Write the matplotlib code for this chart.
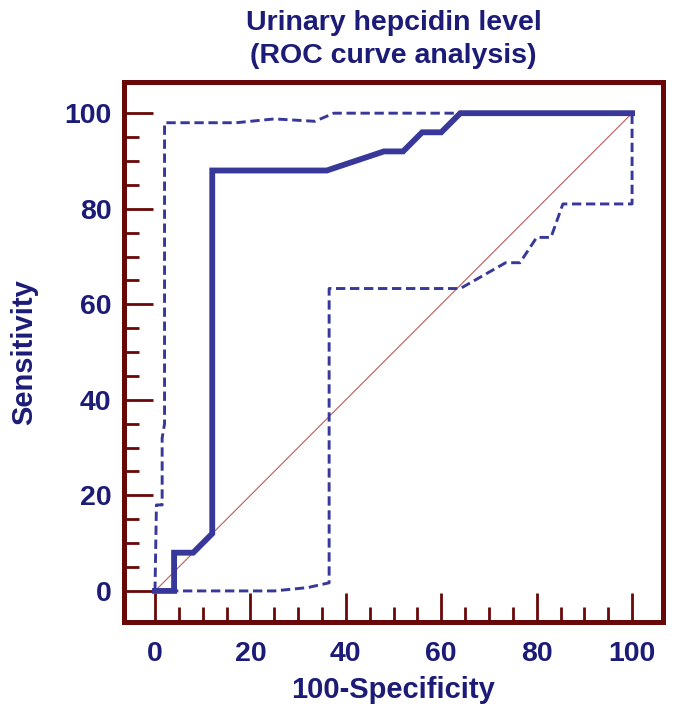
import matplotlib
matplotlib.use('Agg')
import matplotlib.pyplot as plt
from matplotlib.ticker import FixedLocator

# ROC curve (100-Specificity vs Sensitivity)
roc_x = [0, 4, 4, 8, 12, 12, 36, 48, 52, 56, 60, 64, 100]
roc_y = [0, 0, 8, 8, 12, 88, 88, 92, 92, 96, 96, 100, 100]

# upper 95% confidence bound
upper_x = [0, 0.3, 1.5, 1.5, 2, 2, 17, 25, 33.5, 37.5, 100]
upper_y = [0, 18, 18, 32, 35, 98, 98, 98.8, 98.3, 100, 100]

# lower 95% confidence bound
lower_x = [0, 25, 32, 36.5, 36.5, 64, 73.5, 76.5, 80, 83, 85.5, 100, 100]
lower_y = [0, 0, 0.7, 1.7, 63.3, 63.3, 68.7, 68.7, 74, 74, 81, 81, 100]

# reference line
diag = [0, 100]

tick_vals = [0, 20, 40, 60, 80, 100]
minor_vals = [v for v in range(5, 100, 5) if v % 20]

frame_col = '#690808'
text_col = '#1c1c78'
line_col = '#38389a'
diag_col = '#c05a5a'

plt.rcParams['font.family'] = ['Liberation Sans', 'DejaVu Sans']
plt.rcParams['font.weight'] = 'bold'

fig = plt.figure(figsize=(6.85, 7.08), dpi=100)
ax = fig.add_axes([0.181, 0.1215, 0.787, 0.7625])

ax.plot(diag, diag, color=diag_col, lw=0.8, zorder=2)
ax.plot(upper_x, upper_y, color=line_col, lw=2.1, ls='--', dashes=(3.2, 1.6), zorder=3)
ax.plot(lower_x, lower_y, color=line_col, lw=2.1, ls='--', dashes=(3.2, 1.6), zorder=3)
ax.plot(roc_x, roc_y, color=line_col, lw=4.2, solid_joinstyle='miter', zorder=4)

ax.set_xlim(-6.5, 106.5)
ax.set_ylim(-6.5, 106.5)
ax.set_xticks(tick_vals)
ax.set_yticks(tick_vals)
ax.xaxis.set_minor_locator(FixedLocator(minor_vals))
ax.yaxis.set_minor_locator(FixedLocator(minor_vals))

for s in ax.spines.values():
    s.set_color(frame_col)
    s.set_linewidth(3.6)

ax.tick_params(which='major', direction='in', length=21, width=2.0, color=frame_col,
               labelsize=20.5, labelcolor=text_col)
ax.tick_params(which='minor', direction='in', length=11, width=2.0, color=frame_col)
ax.tick_params(axis='x', which='major', pad=14)
ax.tick_params(axis='y', which='major', pad=9)
for lab in ax.get_xticklabels() + ax.get_yticklabels():
    lab.set_fontweight('bold')

ax.set_xlabel('100-Specificity', fontsize=21, fontweight='bold', color=text_col, labelpad=6)
ax.set_ylabel('Sensitivity', fontsize=21, fontweight='bold', color=text_col, labelpad=19)
ax.set_title('Urinary hepcidin level\n(ROC curve analysis)', fontsize=20.5, fontweight='bold',
             color=text_col, pad=14, linespacing=1.35)

fig.savefig('out.png', dpi=100, facecolor='white')
